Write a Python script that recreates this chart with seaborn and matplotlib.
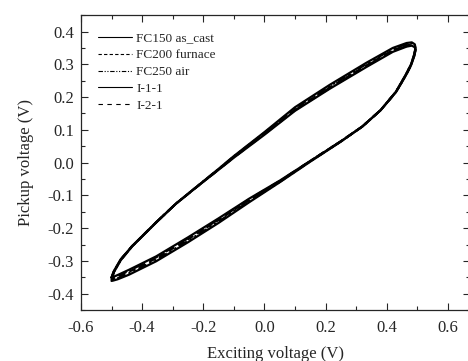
import numpy as np
import pandas as pd
import matplotlib
matplotlib.use('Agg')
import matplotlib.pyplot as plt
import seaborn as sns
from matplotlib.ticker import MultipleLocator, FormatStrFormatter

# Hysteresis loops (V)
# upper branch: lower-left tip -> upper-right tip
x_up = [-0.500, -0.497, -0.492, -0.470, -0.433, -0.354, -0.289, -0.213, -0.150, -0.100,
        0.000, 0.100, 0.213, 0.334, 0.420, 0.465, 0.482, 0.492]
# lower branch: upper-right tip -> lower-left tip
x_low = [0.494, 0.490, 0.480, 0.462, 0.430, 0.380, 0.320, 0.250, 0.150, 0.050,
         -0.050, -0.150, -0.250, -0.354, -0.443, -0.480, -0.495, -0.500]

fc150_up = [-0.350, -0.342, -0.330, -0.295, -0.255, -0.182, -0.125, -0.068, -0.022, 0.015,
            0.085, 0.158, 0.225, 0.292, 0.338, 0.354, 0.357, 0.352]
fc150_low = [0.342, 0.325, 0.298, 0.265, 0.215, 0.160, 0.110, 0.065, 0.005, -0.055,
             -0.110, -0.170, -0.228, -0.286, -0.327, -0.343, -0.349, -0.350]

fc200_up = [-0.352, -0.344, -0.331, -0.296, -0.255, -0.182, -0.125, -0.068, -0.021, 0.017,
            0.088, 0.162, 0.229, 0.297, 0.343, 0.358, 0.360, 0.355]
fc200_low = [0.345, 0.327, 0.299, 0.266, 0.215, 0.160, 0.110, 0.065, 0.005, -0.057,
             -0.114, -0.175, -0.234, -0.292, -0.333, -0.348, -0.353, -0.354]

fc250_up = [-0.355, -0.346, -0.333, -0.297, -0.256, -0.182, -0.125, -0.067, -0.020, 0.019,
            0.091, 0.166, 0.233, 0.301, 0.347, 0.362, 0.364, 0.358]
fc250_low = [0.348, 0.329, 0.300, 0.267, 0.216, 0.160, 0.110, 0.065, 0.004, -0.059,
             -0.118, -0.180, -0.239, -0.297, -0.338, -0.353, -0.357, -0.358]

i11_up = [-0.357, -0.348, -0.334, -0.298, -0.256, -0.183, -0.125, -0.067, -0.019, 0.020,
          0.093, 0.169, 0.237, 0.305, 0.350, 0.365, 0.367, 0.361]
i11_low = [0.350, 0.331, 0.301, 0.268, 0.216, 0.160, 0.110, 0.064, 0.003, -0.060,
           -0.121, -0.184, -0.243, -0.301, -0.342, -0.356, -0.360, -0.361]

i21_up = [-0.353, -0.345, -0.332, -0.296, -0.255, -0.182, -0.125, -0.068, -0.021, 0.016,
          0.087, 0.160, 0.227, 0.295, 0.341, 0.356, 0.359, 0.354]
i21_low = [0.344, 0.326, 0.298, 0.265, 0.215, 0.160, 0.110, 0.065, 0.005, -0.056,
           -0.112, -0.173, -0.231, -0.289, -0.330, -0.346, -0.351, -0.352]

labels = ['FC150 as_cast', 'FC200 furnace', 'FC250 air', 'I-1-1', 'I-2-1']
ups = [fc150_up, fc200_up, fc250_up, i11_up, i21_up]
lows = [fc150_low, fc200_low, fc250_low, i11_low, i21_low]
styles = ['-', (0, (3, 2)), (0, (4, 1.5, 1, 1.5, 1, 1.5)), '-', (0, (4, 4))]

sns.set_style('ticks')
plt.rcParams['font.family'] = ['Liberation Serif', 'DejaVu Serif']
plt.rcParams['axes.unicode_minus'] = False

fig = plt.figure(figsize=(4.68, 3.61), dpi=100)
ax = fig.add_axes([0.173, 0.141, 1.004 - 0.173, 0.958 - 0.141])

for lab, yu, yl, ls in zip(labels, ups, lows, styles):
    df = pd.DataFrame({'x': x_up + x_low, 'y': yu + yl})
    sns.lineplot(data=df, x='x', y='y', sort=False, estimator=None, ax=ax,
                 color='black', linewidth=1.6, linestyle=ls, label=lab)

ax.set_xlim(-0.6, 0.672)
ax.set_ylim(-0.45, 0.45)
ax.xaxis.set_major_locator(MultipleLocator(0.2))
ax.xaxis.set_minor_locator(MultipleLocator(0.1))
ax.yaxis.set_major_locator(MultipleLocator(0.1))
ax.yaxis.set_minor_locator(MultipleLocator(0.05))
ax.xaxis.set_major_formatter(FormatStrFormatter('%.1f'))
ax.yaxis.set_major_formatter(FormatStrFormatter('%.1f'))
ax.tick_params(which='both', direction='in', top=True, right=True, labelsize=12, width=0.8)
ax.tick_params(which='major', length=5)
ax.tick_params(axis='x', which='major', pad=7)
ax.tick_params(axis='y', which='major', pad=5)
ax.tick_params(which='minor', length=3)
for s in ax.spines.values():
    s.set_linewidth(0.9)

ax.set_xlabel('Exciting voltage (V)', fontsize=12, labelpad=7)
ax.set_ylabel('Pickup voltage (V)', fontsize=12, labelpad=10)

leg = ax.legend(loc='upper left', frameon=False, fontsize=9.5, handlelength=2.6,
                handletextpad=0.3, labelspacing=0.35, borderaxespad=0.9)
for h in leg.get_lines():
    h.set_linewidth(0.8)

fig.savefig('out.png', dpi=100)
